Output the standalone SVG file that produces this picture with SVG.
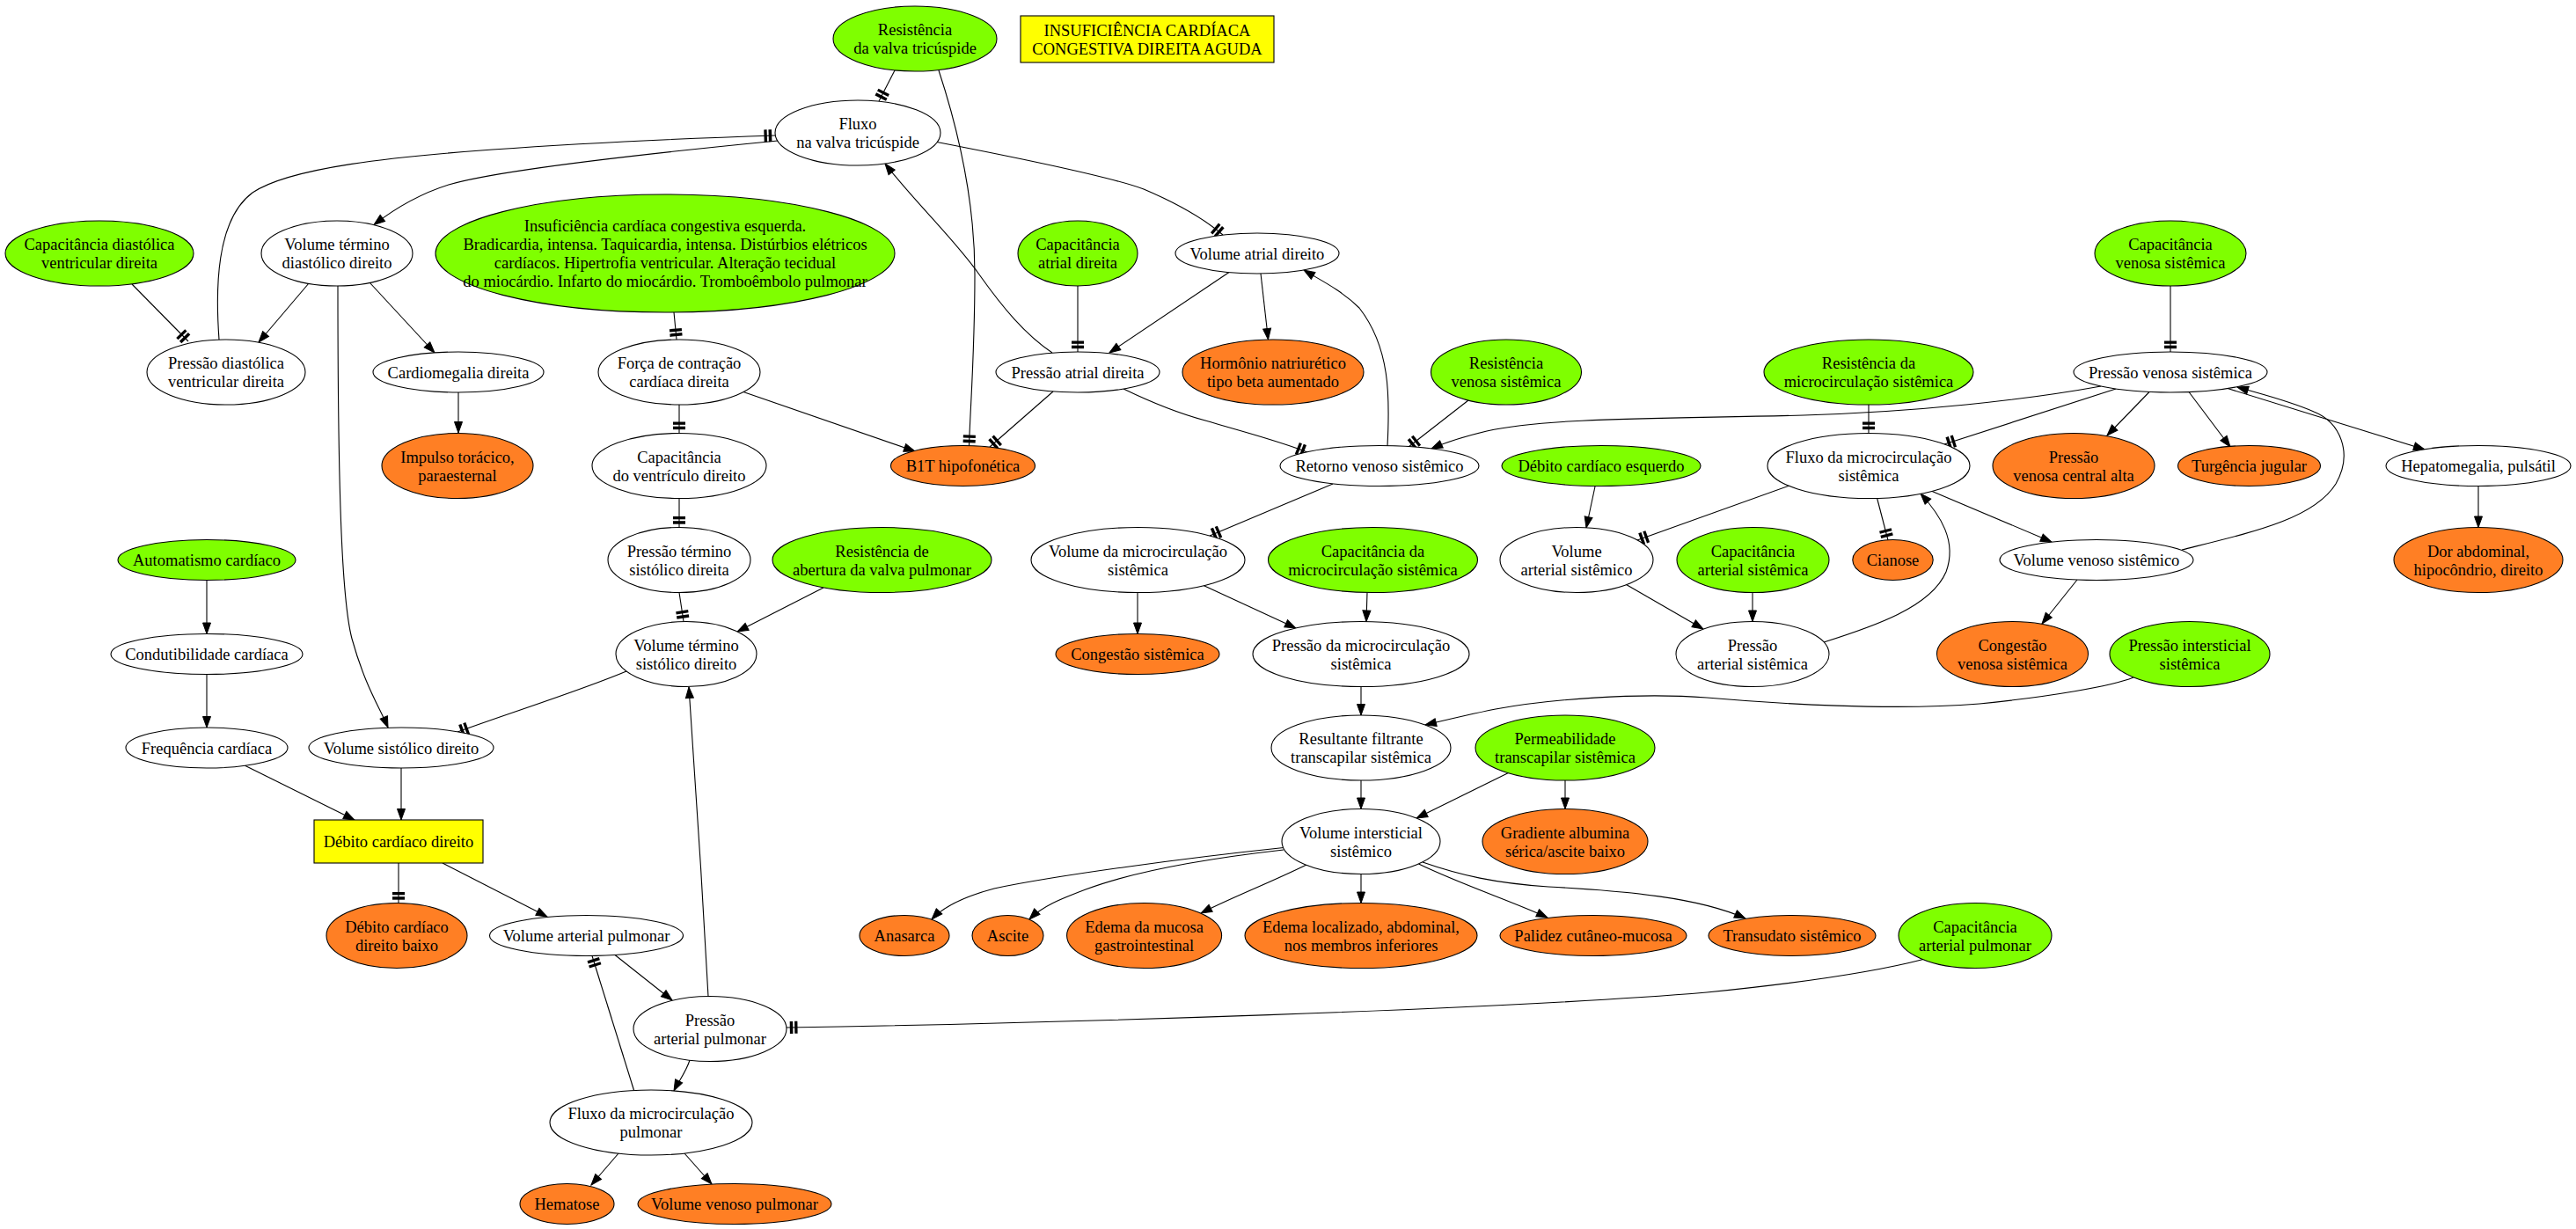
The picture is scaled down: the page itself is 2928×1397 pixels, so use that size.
<svg xmlns="http://www.w3.org/2000/svg" width="2928" height="1397" viewBox="0 0 2928 1397">
<style>
.g{fill:#7fff00;stroke:#000;stroke-width:1.1}
.o{fill:#ff7f24;stroke:#000;stroke-width:1.1}
.w{fill:#fff;stroke:#000;stroke-width:1.1}
.y{fill:#ffff00;stroke:#000;stroke-width:1.1}
text{font-family:"Liberation Serif","Times New Roman",serif;font-size:18.5px;text-anchor:middle;fill:#000}
.e{fill:none;stroke:#000;stroke-width:1.1}
.a{marker-end:url(#arr)}
.t{marker-end:url(#tee)}
</style>
<defs>
<marker id="arr" viewBox="-14 -6 16 12" refX="0" refY="0" markerWidth="16" markerHeight="12" markerUnits="userSpaceOnUse" orient="auto"><path d="M0,0 L-12.5,-4.5 L-12.5,4.5 Z" fill="#000" stroke="#000" stroke-width="1"/></marker>
<marker id="tee" viewBox="-16 -9 18 18" refX="0" refY="0" markerWidth="18" markerHeight="18" markerUnits="userSpaceOnUse" orient="auto"><rect x="-12.5" y="-7" width="3.3" height="14" fill="#000"/><rect x="-7.3" y="-7" width="3.5" height="14" fill="#000"/></marker>
</defs>
<rect x="0" y="0" width="2928" height="1397" fill="#fff"/>
<g id="edges">
<path class="e t" d="M1017,80 L999,115"/>
<path class="e t" d="M1067,80 C1090,150 1108,230 1108,312 C1108,400 1103,460 1101.5,507"/>
<path class="e a" d="M884,160 C700,178 560,195 510,210 C475,221 445,240 425,255.5"/>
<path class="e t" d="M249,386 C245,330 245,250 287,219 C330,190 450,178 560,170 C700,160 820,156 881,154"/>
<path class="e t" d="M150,323 L214,388"/>
<path class="e a" d="M351,322 L294,389"/>
<path class="e a" d="M420,321 L494,401"/>
<path class="e a" d="M384,325 C384,550 388,680 400,726 C415,780 432,805 441,827"/>
<path class="e a" d="M521,446 L521,492"/>
<path class="e t" d="M766,355 L769,386"/>
<path class="e t" d="M772,460 L772,492"/>
<path class="e a" d="M845,445.5 L1040,513"/>
<path class="e t" d="M772,566 L772,599.5"/>
<path class="e t" d="M772,673.5 L777,706.5"/>
<path class="e a" d="M936,668 L838,718"/>
<path class="e t" d="M712,763 C660,785 580,810 520,832"/>
<path class="e a" d="M235,659.5 L235,720.5"/>
<path class="e a" d="M235,766.5 L235,827"/>
<path class="e a" d="M278,870 L403,932"/>
<path class="e a" d="M456,873 L456,932"/>
<path class="e t" d="M453,981 L453,1026.5"/>
<path class="e a" d="M503,981 L622,1042"/>
<path class="e a" d="M699,1085.5 L764,1137"/>
<path class="e a" d="M805,1132.5 C799,1020 790,880 783,781"/>
<path class="e a" d="M784,1205 C780,1218 772,1228 766,1240"/>
<path class="e t" d="M720.6,1239.5 C705,1190 690,1140 673,1086.5"/>
<path class="e t" d="M2186,1090.5 C2130,1105 2050,1117 1940,1128 C1700,1148 1200,1163 894,1168"/>
<path class="e a" d="M703,1311 L672,1347"/>
<path class="e a" d="M778,1311 L809,1346"/>
<path class="e a" d="M1196,401 C1165,380 1140,350 1113,312 C1085,272 1040,230 1006,186"/>
<path class="e t" d="M1225,325 L1225,400"/>
<path class="e a" d="M1397,309.5 L1261,401"/>
<path class="e a" d="M1433,311 L1441.5,386"/>
<path class="e t" d="M1065,161.5 C1150,178 1260,200 1300,215 C1340,232 1370,250 1390,267"/>
<path class="e t" d="M1197,445 L1125,508"/>
<path class="e t" d="M1277,442 C1310,458 1340,470 1370,478 C1410,490 1450,500 1486,514"/>
<path class="e a" d="M1577,507 C1580,450 1580,395 1545,350 C1525,330 1500,318 1482,307"/>
<path class="e t" d="M1669,455 L1601,508"/>
<path class="e a" d="M2388,439 C2300,455 2180,468 2050,472 C1900,476 1760,474 1690,490 C1665,496 1645,502 1627,510"/>
<path class="e t" d="M2405,442 L2210,505"/>
<path class="e t" d="M2467,325 L2467,400"/>
<path class="e t" d="M2124,460 L2124,492"/>
<path class="e a" d="M2443,445.5 L2395,495"/>
<path class="e a" d="M2488,445.5 L2535,508"/>
<path class="e a" d="M2532,441.5 L2756,511"/>
<path class="e a" d="M2480,625 C2560,605 2630,590 2655,550 C2675,515 2660,480 2630,468 C2600,455 2570,448 2543,440"/>
<path class="e a" d="M2817,553 L2817,599.5"/>
<path class="e t" d="M2133.5,566 L2146,614"/>
<path class="e a" d="M2195,558 L2332,616"/>
<path class="e t" d="M2034,552 L1861,614"/>
<path class="e a" d="M1813,553 L1803,600"/>
<path class="e a" d="M2073,730 C2130,712 2195,690 2212,650 C2225,615 2205,585 2183,561"/>
<path class="e a" d="M1848.5,664.5 L1936,715"/>
<path class="e a" d="M1992,673.5 L1992,706.5"/>
<path class="e t" d="M1515,550 L1375,609"/>
<path class="e a" d="M1293,673.5 L1293,720.5"/>
<path class="e a" d="M1368,665.5 L1473,714"/>
<path class="e a" d="M1554,673.5 L1553,706.5"/>
<path class="e a" d="M2361,659 L2321,709"/>
<path class="e a" d="M1547,780.5 L1547,813"/>
<path class="e a" d="M2425,770 C2400,780 2330,792 2250,800 C2150,808 2020,800 1940,793 C1860,787 1760,795 1700,806 C1670,812 1645,818 1620,824"/>
<path class="e a" d="M1547,887 L1547,919.5"/>
<path class="e a" d="M1714.5,878.5 L1610,930"/>
<path class="e a" d="M1779,887 L1779,919.5"/>
<path class="e a" d="M1459,963.5 C1350,975 1200,995 1130,1010 C1100,1018 1075,1028 1059,1045"/>
<path class="e a" d="M1459,966 C1380,975 1290,990 1234,1011 C1205,1022 1185,1030 1170,1045"/>
<path class="e a" d="M1485,983 C1440,1005 1400,1020 1365,1038"/>
<path class="e a" d="M1547,993.5 L1547,1026.5"/>
<path class="e a" d="M1612.5,982 C1660,1005 1720,1025 1759,1043"/>
<path class="e a" d="M1617,980 C1660,995 1700,1004 1760,1008 C1850,1013 1930,1020 1984,1044"/>
</g>
<g id="n-resistencia-valva-tricuspide"><ellipse class="g" cx="1040" cy="44" rx="93" ry="37"/><text x="1040" y="40">Resistência</text><text x="1040" y="61">da valva tricúspide</text></g>
<g id="n-titulo"><rect class="y" x="1160" y="18" width="288" height="53"/><text x="1304" y="41">INSUFICIÊNCIA CARDÍACA</text><text x="1304" y="62">CONGESTIVA DIREITA AGUDA</text></g>
<g id="n-fluxo-valva-tricuspide"><ellipse class="w" cx="975" cy="151" rx="94" ry="37"/><text x="975" y="147">Fluxo</text><text x="975" y="168">na valva tricúspide</text></g>
<g id="n-cap-diastolica-vd"><ellipse class="g" cx="113" cy="288" rx="107" ry="37"/><text x="113" y="284">Capacitância diastólica</text><text x="113" y="305">ventricular direita</text></g>
<g id="n-vol-termino-diastolico"><ellipse class="w" cx="383" cy="288" rx="86" ry="37"/><text x="383" y="284">Volume término</text><text x="383" y="305">diastólico direito</text></g>
<g id="n-icc-esquerda"><ellipse class="g" cx="756" cy="288" rx="261" ry="67"/><text x="756" y="263">Insuficiência cardíaca congestiva esquerda.</text><text x="756" y="284">Bradicardia, intensa. Taquicardia, intensa. Distúrbios elétricos</text><text x="756" y="305">cardíacos. Hipertrofia ventricular. Alteração tecidual</text><text x="756" y="326">do miocárdio. Infarto do miocárdio. Tromboêmbolo pulmonar</text></g>
<g id="n-cap-atrial-direita"><ellipse class="g" cx="1225" cy="288" rx="68" ry="37"/><text x="1225" y="284">Capacitância</text><text x="1225" y="305">atrial direita</text></g>
<g id="n-vol-atrial-direito"><ellipse class="w" cx="1429" cy="288" rx="93" ry="23"/><text x="1429" y="294.5">Volume atrial direito</text></g>
<g id="n-cap-venosa-sistemica"><ellipse class="g" cx="2467" cy="288" rx="86" ry="37"/><text x="2467" y="284">Capacitância</text><text x="2467" y="305">venosa sistêmica</text></g>
<g id="n-pressao-diastolica-vd"><ellipse class="w" cx="257" cy="423" rx="90" ry="37"/><text x="257" y="419">Pressão diastólica</text><text x="257" y="440">ventricular direita</text></g>
<g id="n-cardiomegalia"><ellipse class="w" cx="521" cy="423" rx="97" ry="23"/><text x="521" y="429.5">Cardiomegalia direita</text></g>
<g id="n-forca-contracao"><ellipse class="w" cx="772" cy="423" rx="92" ry="37"/><text x="772" y="419">Força de contração</text><text x="772" y="440">cardíaca direita</text></g>
<g id="n-pressao-atrial-direita"><ellipse class="w" cx="1225" cy="423" rx="93" ry="23"/><text x="1225" y="429.5">Pressão atrial direita</text></g>
<g id="n-hormonio-natriuretico"><ellipse class="o" cx="1447" cy="423" rx="103" ry="37"/><text x="1447" y="419">Hormônio natriurético</text><text x="1447" y="440">tipo beta aumentado</text></g>
<g id="n-resistencia-venosa"><ellipse class="g" cx="1712" cy="423" rx="85.5" ry="37"/><text x="1712" y="419">Resistência</text><text x="1712" y="440">venosa sistêmica</text></g>
<g id="n-resistencia-microcirc"><ellipse class="g" cx="2124" cy="423" rx="119" ry="37"/><text x="2124" y="419">Resistência da</text><text x="2124" y="440">microcirculação sistêmica</text></g>
<g id="n-pressao-venosa-sistemica"><ellipse class="w" cx="2467" cy="423" rx="110" ry="23"/><text x="2467" y="429.5">Pressão venosa sistêmica</text></g>
<g id="n-impulso-toracico"><ellipse class="o" cx="520" cy="529.5" rx="86" ry="37"/><text x="520" y="525.5">Impulso torácico,</text><text x="520" y="546.5">paraesternal</text></g>
<g id="n-cap-ventriculo-direito"><ellipse class="w" cx="772" cy="529.5" rx="99" ry="37"/><text x="772" y="525.5">Capacitância</text><text x="772" y="546.5">do ventrículo direito</text></g>
<g id="n-b1t"><ellipse class="o" cx="1094.5" cy="529.5" rx="82" ry="23"/><text x="1094.5" y="536">B1T hipofonética</text></g>
<g id="n-retorno-venoso"><ellipse class="w" cx="1568" cy="529.5" rx="113" ry="23"/><text x="1568" y="536">Retorno venoso sistêmico</text></g>
<g id="n-debito-esquerdo"><ellipse class="g" cx="1820" cy="529.5" rx="113" ry="23"/><text x="1820" y="536">Débito cardíaco esquerdo</text></g>
<g id="n-fluxo-microcirc-sistemica"><ellipse class="w" cx="2124" cy="529.5" rx="115" ry="37"/><text x="2124" y="525.5">Fluxo da microcirculação</text><text x="2124" y="546.5">sistêmica</text></g>
<g id="n-pvc-alta"><ellipse class="o" cx="2357" cy="529.5" rx="92" ry="37"/><text x="2357" y="525.5">Pressão</text><text x="2357" y="546.5">venosa central alta</text></g>
<g id="n-turgencia-jugular"><ellipse class="o" cx="2556.5" cy="529.5" rx="81" ry="23"/><text x="2556.5" y="536">Turgência jugular</text></g>
<g id="n-hepatomegalia"><ellipse class="w" cx="2817" cy="529.5" rx="105" ry="23"/><text x="2817" y="536">Hepatomegalia, pulsátil</text></g>
<g id="n-automatismo"><ellipse class="g" cx="235" cy="636.5" rx="101" ry="23"/><text x="235" y="643">Automatismo cardíaco</text></g>
<g id="n-pressao-termino-sistolico"><ellipse class="w" cx="772" cy="636.5" rx="81" ry="37"/><text x="772" y="632.5">Pressão término</text><text x="772" y="653.5">sistólico direita</text></g>
<g id="n-resistencia-valva-pulmonar"><ellipse class="g" cx="1002.5" cy="636.5" rx="124.5" ry="37"/><text x="1002.5" y="632.5">Resistência de</text><text x="1002.5" y="653.5">abertura da valva pulmonar</text></g>
<g id="n-vol-microcirc-sistemica"><ellipse class="w" cx="1293.5" cy="636.5" rx="121.5" ry="37"/><text x="1293.5" y="632.5">Volume da microcirculação</text><text x="1293.5" y="653.5">sistêmica</text></g>
<g id="n-cap-microcirc-sistemica"><ellipse class="g" cx="1560.5" cy="636.5" rx="119" ry="37"/><text x="1560.5" y="632.5">Capacitância da</text><text x="1560.5" y="653.5">microcirculação sistêmica</text></g>
<g id="n-vol-arterial-sistemico"><ellipse class="w" cx="1792" cy="636.5" rx="87" ry="37"/><text x="1792" y="632.5">Volume</text><text x="1792" y="653.5">arterial sistêmico</text></g>
<g id="n-cap-arterial-sistemica"><ellipse class="g" cx="1992.5" cy="636.5" rx="86.5" ry="37"/><text x="1992.5" y="632.5">Capacitância</text><text x="1992.5" y="653.5">arterial sistêmica</text></g>
<g id="n-cianose"><ellipse class="o" cx="2151.5" cy="636.5" rx="45.7" ry="23"/><text x="2151.5" y="643">Cianose</text></g>
<g id="n-vol-venoso-sistemico"><ellipse class="w" cx="2383" cy="636.5" rx="110" ry="23"/><text x="2383" y="643">Volume venoso sistêmico</text></g>
<g id="n-dor-abdominal"><ellipse class="o" cx="2817" cy="636.5" rx="96" ry="37"/><text x="2817" y="632.5">Dor abdominal,</text><text x="2817" y="653.5">hipocôndrio, direito</text></g>
<g id="n-condutibilidade"><ellipse class="w" cx="235" cy="743.5" rx="109" ry="23"/><text x="235" y="750">Condutibilidade cardíaca</text></g>
<g id="n-vol-termino-sistolico"><ellipse class="w" cx="780" cy="743.5" rx="80" ry="37"/><text x="780" y="739.5">Volume término</text><text x="780" y="760.5">sistólico direito</text></g>
<g id="n-congestao-sistemica"><ellipse class="o" cx="1293" cy="743.5" rx="93" ry="23"/><text x="1293" y="750">Congestão sistêmica</text></g>
<g id="n-pressao-microcirc-sistemica"><ellipse class="w" cx="1547" cy="743.5" rx="123" ry="37"/><text x="1547" y="739.5">Pressão da microcirculação</text><text x="1547" y="760.5">sistêmica</text></g>
<g id="n-pressao-arterial-sistemica"><ellipse class="w" cx="1992" cy="743.5" rx="87" ry="37"/><text x="1992" y="739.5">Pressão</text><text x="1992" y="760.5">arterial sistêmica</text></g>
<g id="n-congestao-venosa"><ellipse class="o" cx="2287.5" cy="743.5" rx="86" ry="37"/><text x="2287.5" y="739.5">Congestão</text><text x="2287.5" y="760.5">venosa sistêmica</text></g>
<g id="n-pressao-intersticial"><ellipse class="g" cx="2489" cy="743.5" rx="91" ry="37"/><text x="2489" y="739.5">Pressão intersticial</text><text x="2489" y="760.5">sistêmica</text></g>
<g id="n-frequencia"><ellipse class="w" cx="235" cy="850" rx="92" ry="23"/><text x="235" y="856.5">Frequência cardíaca</text></g>
<g id="n-vol-sistolico"><ellipse class="w" cx="456" cy="850" rx="105" ry="23"/><text x="456" y="856.5">Volume sistólico direito</text></g>
<g id="n-resultante-filtrante"><ellipse class="w" cx="1547" cy="850" rx="102" ry="37"/><text x="1547" y="846">Resultante filtrante</text><text x="1547" y="867">transcapilar sistêmica</text></g>
<g id="n-permeabilidade"><ellipse class="g" cx="1779" cy="850" rx="102" ry="37"/><text x="1779" y="846">Permeabilidade</text><text x="1779" y="867">transcapilar sistêmica</text></g>
<g id="n-debito-direito"><rect class="y" x="357" y="932" width="192" height="49"/><text x="453" y="963">Débito cardíaco direito</text></g>
<g id="n-vol-intersticial"><ellipse class="w" cx="1547" cy="956.5" rx="90" ry="37"/><text x="1547" y="952.5">Volume intersticial</text><text x="1547" y="973.5">sistêmico</text></g>
<g id="n-gradiente-albumina"><ellipse class="o" cx="1779" cy="956.5" rx="94" ry="37"/><text x="1779" y="952.5">Gradiente albumina</text><text x="1779" y="973.5">sérica/ascite baixo</text></g>
<g id="n-debito-direito-baixo"><ellipse class="o" cx="451" cy="1063.5" rx="80" ry="37"/><text x="451" y="1059.5">Débito cardíaco</text><text x="451" y="1080.5">direito baixo</text></g>
<g id="n-vol-arterial-pulmonar"><ellipse class="w" cx="666.5" cy="1063.5" rx="110" ry="23"/><text x="666.5" y="1070">Volume arterial pulmonar</text></g>
<g id="n-anasarca"><ellipse class="o" cx="1028" cy="1063.5" rx="51" ry="23"/><text x="1028" y="1070">Anasarca</text></g>
<g id="n-ascite"><ellipse class="o" cx="1145.5" cy="1063.5" rx="40.5" ry="23"/><text x="1145.5" y="1070">Ascite</text></g>
<g id="n-edema-mucosa"><ellipse class="o" cx="1300.6" cy="1063.5" rx="88" ry="37"/><text x="1300.6" y="1059.5">Edema da mucosa</text><text x="1300.6" y="1080.5">gastrointestinal</text></g>
<g id="n-edema-localizado"><ellipse class="o" cx="1547" cy="1063.5" rx="132" ry="37"/><text x="1547" y="1059.5">Edema localizado, abdominal,</text><text x="1547" y="1080.5">nos membros inferiores</text></g>
<g id="n-palidez"><ellipse class="o" cx="1811" cy="1063.5" rx="106" ry="23"/><text x="1811" y="1070">Palidez cutâneo-mucosa</text></g>
<g id="n-transudato"><ellipse class="o" cx="2037" cy="1063.5" rx="95" ry="23"/><text x="2037" y="1070">Transudato sistêmico</text></g>
<g id="n-cap-arterial-pulmonar"><ellipse class="g" cx="2245" cy="1063.5" rx="87" ry="37"/><text x="2245" y="1059.5">Capacitância</text><text x="2245" y="1080.5">arterial pulmonar</text></g>
<g id="n-pressao-arterial-pulmonar"><ellipse class="w" cx="807" cy="1169.5" rx="87" ry="37"/><text x="807" y="1165.5">Pressão</text><text x="807" y="1186.5">arterial pulmonar</text></g>
<g id="n-fluxo-microcirc-pulmonar"><ellipse class="w" cx="740" cy="1276" rx="115" ry="37"/><text x="740" y="1272">Fluxo da microcirculação</text><text x="740" y="1293">pulmonar</text></g>
<g id="n-hematose"><ellipse class="o" cx="644.5" cy="1368.5" rx="53.5" ry="23"/><text x="644.5" y="1375">Hematose</text></g>
<g id="n-vol-venoso-pulmonar"><ellipse class="o" cx="835" cy="1368.5" rx="110" ry="23"/><text x="835" y="1375">Volume venoso pulmonar</text></g>
</svg>
